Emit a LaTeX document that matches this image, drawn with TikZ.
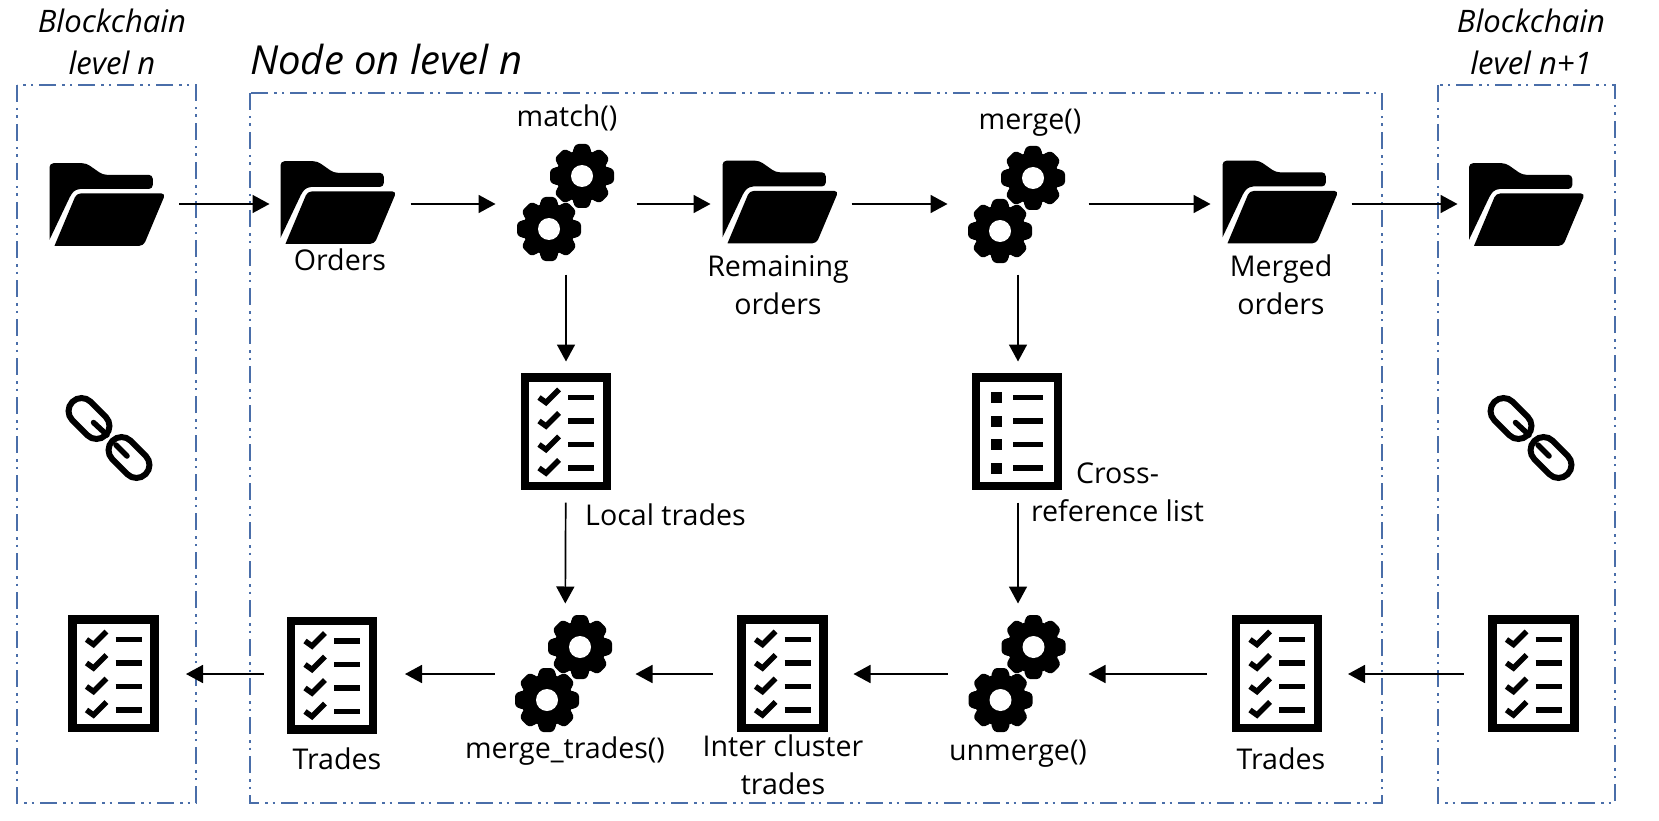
\documentclass[tikz,border=0pt]{standalone}
\usepackage{fontspec}
\setmainfont{Open Sans}
\usetikzlibrary{arrows.meta}
\definecolor{framecol}{HTML}{4A6EA9}
\tikzset{
	slot/.style={minimum size=141pt, inner sep=0pt, outer sep=0pt},
	lbl/.style={font=\fontsize{28.6}{38}\selectfont, inner sep=0pt, align=center},
	lvl/.style={font=\fontsize{31}{42}\selectfont\itshape, inner sep=0pt, align=center},
	flow/.style={-{Triangle[length=17pt,width=18pt]}, line width=1.7pt, black},
	frame/.style={framecol, line width=1.5pt, dash pattern=on 17pt off 6pt on 2.5pt off 5pt on 2.5pt off 6pt},
	folder/.pic={
		\fill (-58,35.3) [rounded corners=4pt] -- (-58,-41.3) -- (-21.3,-41.3) -- (-4.7,-29.7) -- (45.3,-29.7) -- (45.3,-15.5) -- (-31.3,-15.5) -- (-36,-11) [sharp corners] -- cycle;
		\fill (-53,41.3) [rounded corners=4pt] -- (-31,-11) -- (58,-11) -- (36,41.3) [sharp corners] -- cycle;
	},
	onegear/.pic={
		\fill (0,0) circle (26);
		\foreach \a in {0,45,...,315}
			\fill[rotate=\a, rounded corners=3pt] (23,-10) -- (32,-6.5) -- (32,6.5) -- (23,10) -- cycle;
		\fill[white] (0,0) circle (11);
	},
	gears/.pic={
		\pic at (16.5,-26.5) {onegear};
		\pic at (-16.5,26.5) {onegear};
	},
	sheet/.pic={
		\draw[line width=8.5pt] (-41,-54.25) rectangle (41,54.25);
	},
	tasks/.pic={
		\pic {sheet};
		\foreach \r in {-34,-10.5,13,36.5} {
			\draw[line width=5.5pt] (-27,\r) -- (-20,\r+5) -- (-7,\r-8);
			\draw[line width=5.5pt] (2,\r) -- (28,\r);
		}
	},
	bullets/.pic={
		\pic {sheet};
		\foreach \r in {-34,-10.5,13,36.5} {
			\fill (-26,\r-5.5) rectangle (-15,\r+5.5);
			\draw[line width=5.5pt] (-4,\r) -- (26,\r);
		}
	},
	chainlink/.pic={
		\draw[line width=6pt, rounded corners=12.9pt, shift={(-20,-19.5)}, rotate=-45] (-23.5,-13) rectangle (23.5,13);
		\draw[line width=6pt, rounded corners=12.9pt, shift={(20,19.5)}, rotate=-45] (-23.5,-13) rectangle (23.5,13);
		\draw[line width=5.5pt, line cap=round] (-15.5,-15.5) -- (-2,-3);
		\draw[line width=5.5pt, line cap=round] (7,7) -- (18,18);
	},
}
\begin{document}
\begin{tikzpicture}[x=1pt,y=-1pt]
	\useasboundingbox (0,0) rectangle (1659,821);
	%
	\draw[frame] (17,85) rectangle (196,803);
	\draw[frame] (250,93) rectangle (1382,803);
	\draw[frame] (1438,85) rectangle (1615,803);
	%
	\node[lvl, anchor=base] (levelleft) at (112,75) {Blockchain\\level n};
	\node[lvl, anchor=base west, font=\fontsize{40}{42}\selectfont\itshape] (nodetitle) at (250,75) {Node on level n};
	\node[lvl, anchor=base] (levelright) at (1531,75) {Blockchain\\level n+1};
	%
	\node[slot] (blockfolder) at (108.5,204) {};
	\node[slot] (orders) at (340,204) {};
	\node[slot] (match) at (566,204) {};
	\node[slot] (remaining) at (781,204) {};
	\node[slot] (merge) at (1018,204) {};
	\node[slot] (merged) at (1281,204) {};
	\node[slot] (nextfolder) at (1528,204) {};
	%
	\node[slot] (localtrades) at (566,432) {};
	\node[slot] (crossref) at (1018,432) {};
	%
	\node[slot] (blocktrades) at (115.5,674) {};
	\node[slot] (trades) at (334.5,674) {};
	\node[slot] (mergetrades) at (565,674) {};
	\node[slot] (intertrades) at (783,674) {};
	\node[slot] (unmerge) at (1018,674) {};
	\node[slot] (uptrades) at (1277.5,674) {};
	\node[slot] (nexttrades) at (1534,674) {};
	%
	\pic at (107.5,204.5) {folder};
	\pic at (338.5,202.5) {folder};
	\pic at (565.5,202.5) {gears};
	\pic at (780.5,202) {folder};
	\pic at (1016.5,204.5) {gears};
	\pic at (1280.5,202) {folder};
	\pic at (1527,204.5) {folder};
	%
	\pic at (109,438) {chainlink};
	\pic at (566,431.5) {tasks};
	\pic at (1017,431.5) {bullets};
	\pic at (1531,438) {chainlink};
	%
	\pic at (113.5,673.5) {tasks};
	\pic at (332,675) {tasks};
	\pic at (563.5,673.5) {gears};
	\pic at (782.5,673.5) {tasks};
	\pic at (1017,673.5) {gears};
	\pic at (1277,673.5) {tasks};
	\pic at (1533.5,673.5) {tasks};
	%
	\draw[flow] (blockfolder) -- (orders);
	\draw[flow] (orders) -- (match);
	\draw[flow] (match) -- (remaining);
	\draw[flow] (remaining) -- (merge);
	\draw[flow] (merge) -- (merged);
	\draw[flow] (merged) -- (nextfolder);
	\draw[flow] (match) -- (localtrades);
	\draw[flow] (merge) -- (crossref);
	\draw[flow] (localtrades) -- (mergetrades);
	\draw[flow] (crossref) -- (unmerge);
	\draw[flow] (nexttrades) -- (uptrades);
	\draw[flow] (uptrades) -- (unmerge);
	\draw[flow] (unmerge) -- (intertrades);
	\draw[flow] (intertrades) -- (mergetrades);
	\draw[flow] (mergetrades) -- (trades);
	\draw[flow] (trades) -- (blocktrades);
	%
	\node[lbl, anchor=base] (lblmatch) at (567,127) {match()};
	\node[lbl, anchor=base] (lblmerge) at (1030,130) {merge()};
	\node[lbl, anchor=base] (lblorders) at (340,270) {Orders};
	\node[lbl, anchor=base] (lblremaining) at (778,314) {Remaining\\orders};
	\node[lbl, anchor=base] (lblmerged) at (1281,314) {Merged\\orders};
	\node[lbl, anchor=base west] (lbllocal) at (585,525) {Local trades};
	\node[lbl, anchor=base] (lblcross) at (1117.5,521) {Cross-\\reference list};
	\node[lbl, anchor=base] (lblmergetrades) at (565,758) {merge\_trades()};
	\node[lbl, anchor=base] (lblinter) at (783,794) {Inter cluster\\trades};
	\node[lbl, anchor=base] (lblunmerge) at (1018,760) {unmerge()};
	\node[lbl, anchor=base] (lbltrades) at (337,769) {Trades};
	\node[lbl, anchor=base] (lbluptrades) at (1281,769) {Trades};
\end{tikzpicture}
\end{document}
